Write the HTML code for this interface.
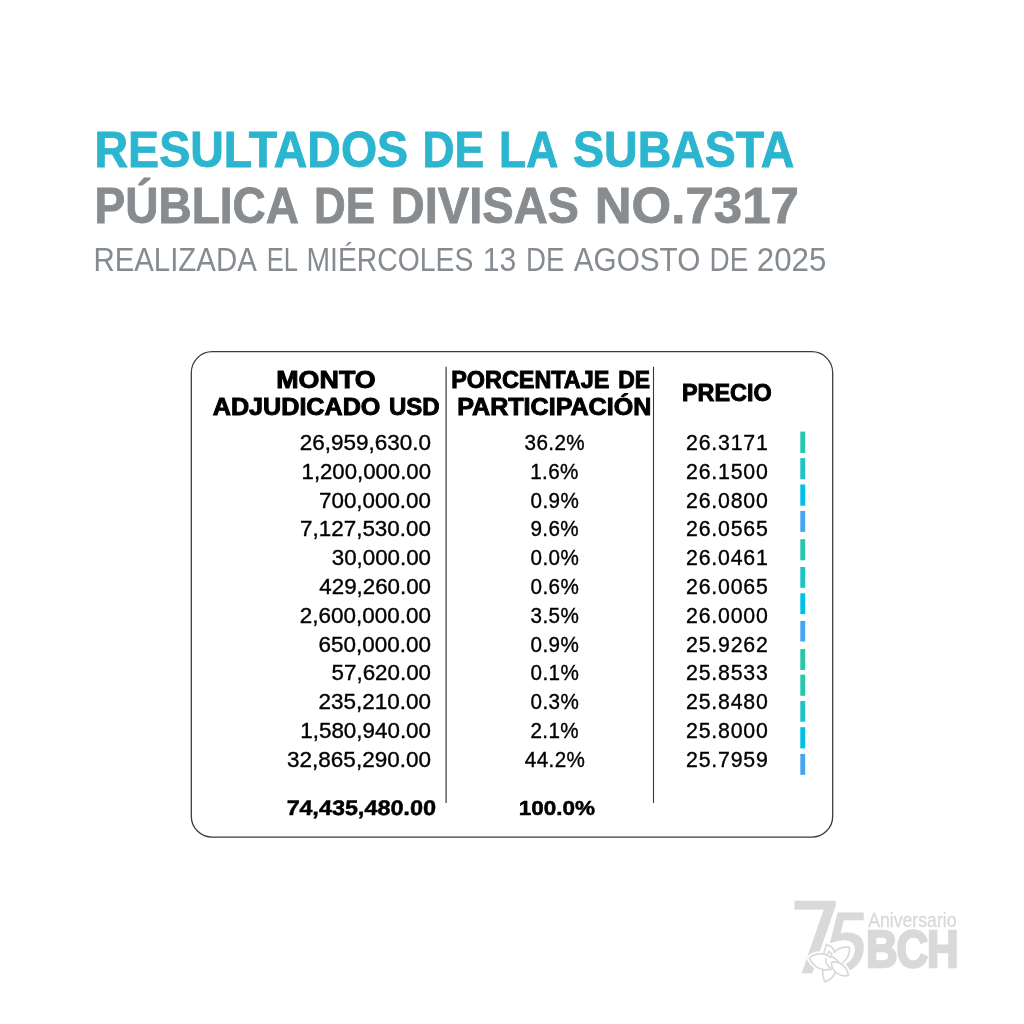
<!DOCTYPE html>
<html lang="es"><head><meta charset="utf-8"><title>Resultados de la Subasta Pública de Divisas No.7317</title>
<style>
html,body{margin:0;padding:0;background:#fff;}
body{width:1024px;height:1024px;overflow:hidden;font-family:"Liberation Sans",sans-serif;}
svg{display:block;}
text{white-space:pre;font-family:"Liberation Sans",sans-serif;}
text.dj{font-family:"DejaVu Sans",sans-serif;}
</style></head><body>
<svg width="1024" height="1024" viewBox="0 0 1024 1024">
<rect width="1024" height="1024" fill="#fff"/>
<rect x="191.3" y="351.7" width="641.4" height="485.5" rx="21" ry="21" fill="none" stroke="#3c3c3c" stroke-width="1.3"/>
<line x1="446.1" y1="366.8" x2="446.1" y2="803.0" stroke="#383838" stroke-width="1.2"/>
<line x1="653.5" y1="366.8" x2="653.5" y2="803.0" stroke="#383838" stroke-width="1.1"/>
<g id="bars">
<rect x="800.3" y="431.6" width="4.9" height="21.4" fill="#29c6ae"/>
<rect x="800.3" y="458.1" width="4.9" height="21.2" fill="#1cc4c6"/>
<rect x="800.3" y="484.5" width="4.9" height="21.2" fill="#00c0e8"/>
<rect x="800.3" y="510.9" width="4.9" height="21.0" fill="#45a5f2"/>
<rect x="800.3" y="539.2" width="4.9" height="21.1" fill="#29c6ae"/>
<rect x="800.3" y="567.0" width="4.9" height="20.8" fill="#1cc4c6"/>
<rect x="800.3" y="593.3" width="4.9" height="20.8" fill="#00c0e8"/>
<rect x="800.3" y="620.9" width="4.9" height="20.6" fill="#45a5f2"/>
<rect x="800.3" y="649.1" width="4.9" height="20.9" fill="#29c6ae"/>
<rect x="800.3" y="674.6" width="4.9" height="21.2" fill="#29c6ae"/>
<rect x="800.3" y="701.0" width="4.9" height="20.7" fill="#1cc4c6"/>
<rect x="800.3" y="727.2" width="4.9" height="21.2" fill="#00c0e8"/>
<rect x="800.3" y="753.9" width="4.9" height="20.9" fill="#45a5f2"/>
</g>
<g id="title-t1" class="title-line">
<text id="t1_0" transform="translate(94.50 167.10) scale(0.9479 1)" font-size="49.1" font-weight="700" fill="#2bb5ce" stroke="#2bb5ce" stroke-width="0.85" stroke-linejoin="miter">RESULTADOS</text>
<text id="t1_1" transform="translate(422.50 167.10) scale(0.9040 1)" font-size="49.1" font-weight="700" fill="#2bb5ce" stroke="#2bb5ce" stroke-width="0.85" stroke-linejoin="miter">DE</text>
<text id="t1_2" transform="translate(499.00 167.10) scale(0.9051 1)" font-size="49.1" font-weight="700" fill="#2bb5ce" stroke="#2bb5ce" stroke-width="0.85" stroke-linejoin="miter">LA</text>
<text id="t1_3" transform="translate(573.00 167.10) scale(0.9476 1)" font-size="49.1" font-weight="700" fill="#2bb5ce" stroke="#2bb5ce" stroke-width="0.85" stroke-linejoin="miter">SUBASTA</text>
</g>
<g id="title-t2" class="title-line">
<text id="t2_0" transform="translate(94.50 222.90) scale(0.9374 1)" font-size="49.1" font-weight="700" fill="#888c8f" stroke="#888c8f" stroke-width="0.85" stroke-linejoin="miter">PÚBLICA</text>
<text id="t2_1" transform="translate(314.00 222.90) scale(0.8943 1)" font-size="49.1" font-weight="700" fill="#888c8f" stroke="#888c8f" stroke-width="0.85" stroke-linejoin="miter">DE</text>
<text id="t2_2" transform="translate(390.75 222.90) scale(0.9585 1)" font-size="49.1" font-weight="700" fill="#888c8f" stroke="#888c8f" stroke-width="0.85" stroke-linejoin="miter">DIVISAS</text>
<text id="t2_3" transform="translate(594.75 222.90) scale(1.0390 1)" font-size="49.1" font-weight="700" fill="#888c8f" stroke="#888c8f" stroke-width="0.85" stroke-linejoin="miter">NO.7317</text>
</g>
<g id="title-t3" class="title-line">
<text id="t3_0" transform="translate(93.45 270.90) scale(0.9071 1)" font-size="32.4" fill="#858b90">REALIZADA</text>
<text id="t3_1" transform="translate(266.75 270.90) scale(0.7913 1)" font-size="32.4" fill="#858b90">EL</text>
<text id="t3_2" transform="translate(306.50 270.90) scale(0.8745 1)" font-size="32.4" fill="#858b90">MIÉRCOLES</text>
<text id="t3_3" transform="translate(482.75 270.90) scale(0.9295 1)" font-size="32.4" fill="#858b90">13</text>
<text id="t3_4" transform="translate(526.00 270.90) scale(0.8515 1)" font-size="32.4" fill="#858b90">DE</text>
<text id="t3_5" transform="translate(573.75 270.90) scale(0.9173 1)" font-size="32.4" fill="#858b90">AGOSTO</text>
<text id="t3_6" transform="translate(709.50 270.90) scale(0.8614 1)" font-size="32.4" fill="#858b90">DE</text>
<text id="t3_7" transform="translate(756.75 270.90) scale(0.9662 1)" font-size="32.4" fill="#858b90">2025</text>
</g>
<g id="table-head" class="thead">
<text id="h1a" transform="translate(276.25 387.85) scale(1.1679 1)" font-size="23.0" font-weight="700" fill="#000" stroke="#000" stroke-width="0.9" stroke-linejoin="miter">MONTO</text>
<text id="h1b_0" transform="translate(212.75 415.05) scale(1.0937 1)" font-size="23.0" font-weight="700" fill="#000" stroke="#000" stroke-width="0.9" stroke-linejoin="miter">ADJUDICADO</text>
<text id="h1b_1" transform="translate(389.00 415.05) scale(1.0437 1)" font-size="23.0" font-weight="700" fill="#000" stroke="#000" stroke-width="0.9" stroke-linejoin="miter">USD</text>
<text id="h2a_0" transform="translate(451.25 387.85) scale(1.0176 1)" font-size="23.0" font-weight="700" fill="#000" stroke="#000" stroke-width="0.9" stroke-linejoin="miter">PORCENTAJE</text>
<text id="h2a_1" transform="translate(618.25 387.85) scale(0.9967 1)" font-size="23.0" font-weight="700" fill="#000" stroke="#000" stroke-width="0.9" stroke-linejoin="miter">DE</text>
<text id="h2b" transform="translate(457.25 415.05) scale(1.0907 1)" font-size="23.0" font-weight="700" fill="#000" stroke="#000" stroke-width="0.9" stroke-linejoin="miter">PARTICIPACIÓN</text>
<text id="h3" transform="translate(682.00 401.35) scale(1.0169 1)" font-size="23.0" font-weight="700" fill="#000" stroke="#000" stroke-width="0.9" stroke-linejoin="miter">PRECIO</text>
</g>
<g id="row-0" class="row">
<text id="a0" transform="translate(299.80 450.00) scale(1.0564 1)" font-size="21.3" fill="#000" stroke="#000" stroke-width="0.35" stroke-linejoin="miter">26,959,630.0</text>
<text id="b0" transform="translate(524.55 450.00) scale(0.9700 1)" font-size="21.3" fill="#000" letter-spacing="0.40" stroke="#000" stroke-width="0.35" stroke-linejoin="miter">36.2%</text>
<text id="c0" transform="translate(686.00 450.00) scale(1.0000 1)" font-size="21.3" fill="#000" letter-spacing="0.80" stroke="#000" stroke-width="0.35" stroke-linejoin="miter">26.3171</text>
</g>
<g id="row-1" class="row">
<text id="a1" transform="translate(301.55 478.80) scale(1.0411 1)" font-size="21.3" fill="#000" stroke="#000" stroke-width="0.35" stroke-linejoin="miter">1,200,000.00</text>
<text id="b1" transform="translate(530.18 478.80) scale(0.9700 1)" font-size="21.3" fill="#000" letter-spacing="0.40" stroke="#000" stroke-width="0.35" stroke-linejoin="miter">1.6%</text>
<text id="c1" transform="translate(686.00 478.80) scale(1.0000 1)" font-size="21.3" fill="#000" letter-spacing="0.80" stroke="#000" stroke-width="0.35" stroke-linejoin="miter">26.1500</text>
</g>
<g id="row-2" class="row">
<text id="a2" transform="translate(319.05 507.60) scale(1.0500 1)" font-size="21.3" fill="#000" stroke="#000" stroke-width="0.35" stroke-linejoin="miter">700,000.00</text>
<text id="b2" transform="translate(530.55 507.60) scale(0.9700 1)" font-size="21.3" fill="#000" letter-spacing="0.40" stroke="#000" stroke-width="0.35" stroke-linejoin="miter">0.9%</text>
<text id="c2" transform="translate(686.00 507.60) scale(1.0000 1)" font-size="21.3" fill="#000" letter-spacing="0.80" stroke="#000" stroke-width="0.35" stroke-linejoin="miter">26.0800</text>
</g>
<g id="row-3" class="row">
<text id="a3" transform="translate(300.05 536.40) scale(1.0537 1)" font-size="21.3" fill="#000" stroke="#000" stroke-width="0.35" stroke-linejoin="miter">7,127,530.00</text>
<text id="b3" transform="translate(530.43 536.40) scale(0.9700 1)" font-size="21.3" fill="#000" letter-spacing="0.40" stroke="#000" stroke-width="0.35" stroke-linejoin="miter">9.6%</text>
<text id="c3" transform="translate(686.00 536.40) scale(1.0000 1)" font-size="21.3" fill="#000" letter-spacing="0.80" stroke="#000" stroke-width="0.35" stroke-linejoin="miter">26.0565</text>
</g>
<g id="row-4" class="row">
<text id="a4" transform="translate(331.80 565.20) scale(1.0478 1)" font-size="21.3" fill="#000" stroke="#000" stroke-width="0.35" stroke-linejoin="miter">30,000.00</text>
<text id="b4" transform="translate(530.55 565.20) scale(0.9700 1)" font-size="21.3" fill="#000" letter-spacing="0.40" stroke="#000" stroke-width="0.35" stroke-linejoin="miter">0.0%</text>
<text id="c4" transform="translate(686.00 565.20) scale(1.0000 1)" font-size="21.3" fill="#000" letter-spacing="0.80" stroke="#000" stroke-width="0.35" stroke-linejoin="miter">26.0461</text>
</g>
<g id="row-5" class="row">
<text id="a5" transform="translate(319.30 594.00) scale(1.0483 1)" font-size="21.3" fill="#000" stroke="#000" stroke-width="0.35" stroke-linejoin="miter">429,260.00</text>
<text id="b5" transform="translate(530.55 594.00) scale(0.9700 1)" font-size="21.3" fill="#000" letter-spacing="0.40" stroke="#000" stroke-width="0.35" stroke-linejoin="miter">0.6%</text>
<text id="c5" transform="translate(686.00 594.00) scale(1.0000 1)" font-size="21.3" fill="#000" letter-spacing="0.80" stroke="#000" stroke-width="0.35" stroke-linejoin="miter">26.0065</text>
</g>
<g id="row-6" class="row">
<text id="a6" transform="translate(299.80 622.80) scale(1.0553 1)" font-size="21.3" fill="#000" stroke="#000" stroke-width="0.35" stroke-linejoin="miter">2,600,000.00</text>
<text id="b6" transform="translate(530.55 622.80) scale(0.9700 1)" font-size="21.3" fill="#000" letter-spacing="0.40" stroke="#000" stroke-width="0.35" stroke-linejoin="miter">3.5%</text>
<text id="c6" transform="translate(686.00 622.80) scale(1.0000 1)" font-size="21.3" fill="#000" letter-spacing="0.80" stroke="#000" stroke-width="0.35" stroke-linejoin="miter">26.0000</text>
</g>
<g id="row-7" class="row">
<text id="a7" transform="translate(318.55 651.60) scale(1.0557 1)" font-size="21.3" fill="#000" stroke="#000" stroke-width="0.35" stroke-linejoin="miter">650,000.00</text>
<text id="b7" transform="translate(530.55 651.60) scale(0.9700 1)" font-size="21.3" fill="#000" letter-spacing="0.40" stroke="#000" stroke-width="0.35" stroke-linejoin="miter">0.9%</text>
<text id="c7" transform="translate(686.00 651.60) scale(1.0000 1)" font-size="21.3" fill="#000" letter-spacing="0.80" stroke="#000" stroke-width="0.35" stroke-linejoin="miter">25.9262</text>
</g>
<g id="row-8" class="row">
<text id="a8" transform="translate(331.55 680.40) scale(1.0504 1)" font-size="21.3" fill="#000" stroke="#000" stroke-width="0.35" stroke-linejoin="miter">57,620.00</text>
<text id="b8" transform="translate(530.55 680.40) scale(0.9700 1)" font-size="21.3" fill="#000" letter-spacing="0.40" stroke="#000" stroke-width="0.35" stroke-linejoin="miter">0.1%</text>
<text id="c8" transform="translate(686.00 680.40) scale(1.0000 1)" font-size="21.3" fill="#000" letter-spacing="0.80" stroke="#000" stroke-width="0.35" stroke-linejoin="miter">25.8533</text>
</g>
<g id="row-9" class="row">
<text id="a9" transform="translate(318.55 709.20) scale(1.0557 1)" font-size="21.3" fill="#000" stroke="#000" stroke-width="0.35" stroke-linejoin="miter">235,210.00</text>
<text id="b9" transform="translate(530.55 709.20) scale(0.9700 1)" font-size="21.3" fill="#000" letter-spacing="0.40" stroke="#000" stroke-width="0.35" stroke-linejoin="miter">0.3%</text>
<text id="c9" transform="translate(686.00 709.20) scale(1.0000 1)" font-size="21.3" fill="#000" letter-spacing="0.80" stroke="#000" stroke-width="0.35" stroke-linejoin="miter">25.8480</text>
</g>
<g id="row-10" class="row">
<text id="a10" transform="translate(300.30 738.00) scale(1.0516 1)" font-size="21.3" fill="#000" stroke="#000" stroke-width="0.35" stroke-linejoin="miter">1,580,940.00</text>
<text id="b10" transform="translate(530.43 738.00) scale(0.9700 1)" font-size="21.3" fill="#000" letter-spacing="0.40" stroke="#000" stroke-width="0.35" stroke-linejoin="miter">2.1%</text>
<text id="c10" transform="translate(686.00 738.00) scale(1.0000 1)" font-size="21.3" fill="#000" letter-spacing="0.80" stroke="#000" stroke-width="0.35" stroke-linejoin="miter">25.8000</text>
</g>
<g id="row-11" class="row">
<text id="a11" transform="translate(287.05 766.80) scale(1.0569 1)" font-size="21.3" fill="#000" stroke="#000" stroke-width="0.35" stroke-linejoin="miter">32,865,290.00</text>
<text id="b11" transform="translate(524.80 766.80) scale(0.9700 1)" font-size="21.3" fill="#000" letter-spacing="0.40" stroke="#000" stroke-width="0.35" stroke-linejoin="miter">44.2%</text>
<text id="c11" transform="translate(686.00 766.80) scale(1.0000 1)" font-size="21.3" fill="#000" letter-spacing="0.80" stroke="#000" stroke-width="0.35" stroke-linejoin="miter">25.7959</text>
</g>
<g id="row-total" class="row total">
<text id="ta" transform="translate(286.30 815.20) skewX(-2.5) scale(1.1128 1)" font-size="21.0" font-weight="700" fill="#000" stroke="#000" stroke-width="0.5" stroke-linejoin="miter">74,435,480.00</text>
<text id="tb" transform="translate(518.75 815.20) scale(1.0704 1)" font-size="21.0" font-weight="700" fill="#000" stroke="#000" stroke-width="0.5" stroke-linejoin="miter">100.0%</text>
</g>
<g id="logo-text" class="logo-text">
<text id="lgA" transform="translate(868.15 926.80) scale(0.8713 1)" font-size="20.3" fill="#d9d9d9" stroke="#d9d9d9" stroke-width="0.3" stroke-linejoin="miter">Aniversario</text>
<text id="lgB" transform="translate(865.90 966.80) scale(0.8458 1)" font-size="51.7" font-weight="700" fill="#d9d9d9" letter-spacing="-1.20" stroke="#d9d9d9" stroke-width="2.6" stroke-linejoin="miter">BCH</text>
</g>
<g id="logo">
<clipPath id="clip7"><rect x="794.4" y="890" width="60" height="100"/></clipPath>
<g clip-path="url(#clip7)"><text id="lg7" transform="translate(783.9 973.25) skewX(2.2) scale(0.995 1)" class="dj" font-size="98.77" fill="#d9d9d9" stroke="#d9d9d9" stroke-width="0.5" vector-effect="non-scaling-stroke">7</text></g>
<clipPath id="clip5"><rect x="820" y="900" width="43.7" height="90"/></clipPath>
<g clip-path="url(#clip5)"><text id="lg5" transform="translate(814.7 971.55) skewX(-14) scale(0.975 1)" class="dj" font-size="80.9" fill="#d9d9d9" stroke="#d9d9d9" stroke-width="1" vector-effect="non-scaling-stroke">5</text></g>
<path d="M822.85 969.57 C822.27 974.84 823.44 978.95 825.20 981.88 C830.47 979.53 834.57 976.02 835.16 971.91" fill="#fff" stroke="#fff" stroke-width="5.2" stroke-linejoin="round"/>
<path d="M823.73 953.75 C824.61 950.23 825.49 947.30 826.37 944.38 C831.05 946.13 834.57 949.06 834.28 952.87" fill="#fff" stroke="#fff" stroke-width="5.2" stroke-linejoin="round"/>
<path d="M833.98 952.58 C837.50 948.48 843.95 946.72 849.51 947.30 C850.10 953.75 846.88 960.20 842.19 962.83" fill="#fff" stroke="#fff" stroke-width="5.2" stroke-linejoin="round"/>
<path d="M809.38 958.44 C814.06 952.58 828.12 951.41 838.38 961.37 C832.81 973.67 816.41 972.50 809.38 958.44Z" fill="#fff" stroke="#fff" stroke-width="5.2" stroke-linejoin="round"/>
<path d="M831.35 962.54 C837.50 960.20 846.29 964.30 848.63 975.43 C841.02 977.19 831.64 972.50 831.35 962.54Z" fill="#fff" stroke="#fff" stroke-width="5.2" stroke-linejoin="round"/>
<path d="M822.85 969.57 C822.27 974.84 823.44 978.95 825.20 981.88 C830.47 979.53 834.57 976.02 835.16 971.91" fill="#fff" stroke="#d9d9d9" stroke-width="1.7" stroke-linejoin="round"/>
<path d="M823.73 953.75 C824.61 950.23 825.49 947.30 826.37 944.38 C831.05 946.13 834.57 949.06 834.28 952.87" fill="#fff" stroke="#d9d9d9" stroke-width="1.7" stroke-linejoin="round"/>
<path d="M833.98 952.58 C837.50 948.48 843.95 946.72 849.51 947.30 C850.10 953.75 846.88 960.20 842.19 962.83" fill="#fff" stroke="#d9d9d9" stroke-width="1.7" stroke-linejoin="round"/>
<path d="M809.38 958.44 C814.06 952.58 828.12 951.41 838.38 961.37 C832.81 973.67 816.41 972.50 809.38 958.44Z" fill="#fff" stroke="#d9d9d9" stroke-width="1.7" stroke-linejoin="round"/>
<path d="M831.35 962.54 C837.50 960.20 846.29 964.30 848.63 975.43 C841.02 977.19 831.64 972.50 831.35 962.54Z" fill="#fff" stroke="#d9d9d9" stroke-width="1.7" stroke-linejoin="round"/>
<path d="M828.71 951.41 L831.93 954.04 L830.47 957.56 L827.25 954.92Z" fill="#fff" stroke="#d9d9d9" stroke-width="1.5" stroke-linejoin="miter"/>
<path d="M825.78 958.44 C825.49 962.54 827.54 966.64 831.64 968.40" fill="none" stroke="#d9d9d9" stroke-width="1.6" stroke-linecap="round"/>
</g>
</svg>
</body></html>
